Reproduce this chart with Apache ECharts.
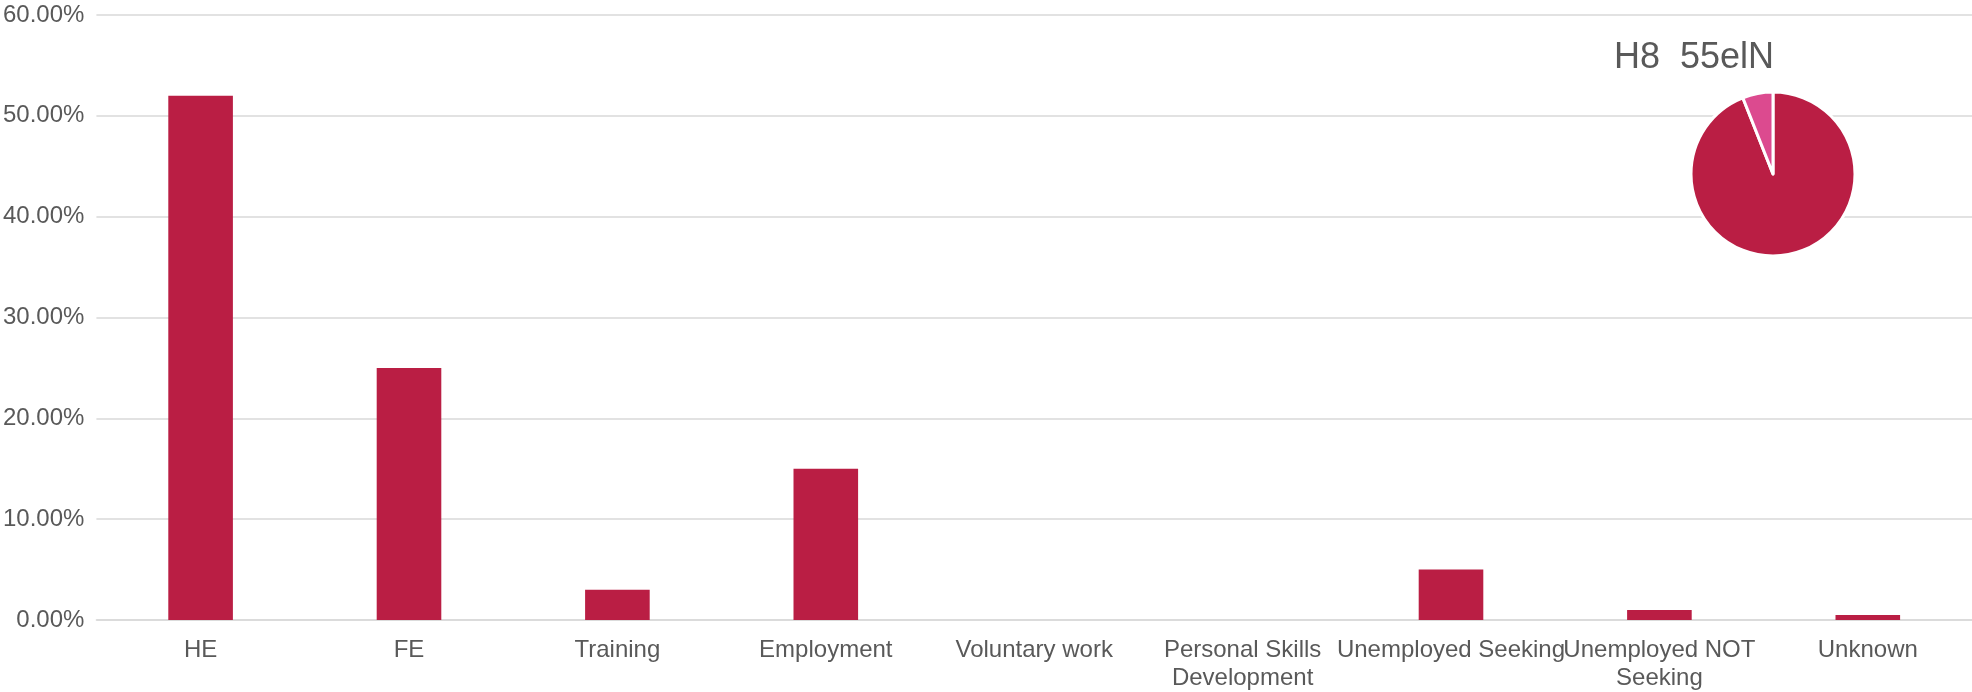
<!DOCTYPE html>
<html>
<head>
<meta charset="utf-8">
<script src="https://cdn.jsdelivr.net/npm/echarts@6/dist/echarts.min.js"></script>
<style>
html,body{margin:0;padding:0;background:#fff;}
#chart{width:1972px;height:692px;}
</style>
</head>
<body>
<div id="chart"></div>
<script>
const categories = ['HE', 'FE', 'Training', 'Employment', 'Voluntary work', 'Personal Skills\nDevelopment', 'Unemployed Seeking', 'Unemployed NOT\nSeeking', 'Unknown'];
const barValues = [52, 25, 3, 15, 0, 0, 5, 1, 0.5];
const yTicks = { min: 0, max: 60, interval: 10 };
const pieTitle = 'H8  55elN';
const pieNames = ['A', 'B'];
const pieValues = [94, 6];

const chart = echarts.init(document.getElementById('chart'));
const font = '"Liberation Sans", Arial, sans-serif';
chart.setOption({
  animation: false,
  backgroundColor: '#ffffff',
  textStyle: { fontFamily: font },
  grid: { left: 94, right: 0, top: 15, bottom: 70, containLabel: false },
  xAxis: {
    type: 'category',
    data: categories,
    axisTick: { show: false },
    axisLine: { lineStyle: { color: '#D9D9D9', width: 1.5 } },
    axisLabel: { color: '#595959', fontSize: 24, fontFamily: font, margin: 16, lineHeight: 28, interval: 0 }
  },
  yAxis: {
    type: 'value',
    min: yTicks.min, max: yTicks.max, interval: yTicks.interval,
    axisLine: { show: false },
    axisTick: { show: false },
    splitLine: { lineStyle: { color: '#D9D9D9', width: 1.5 } },
    axisLabel: { color: '#595959', fontSize: 24, fontFamily: font, margin: 12, formatter: v => v.toFixed(2) + '%' }
  },
  graphic: [{
    type: 'text',
    left: 1614, top: 40,
    style: { text: pieTitle, fill: '#595959', font: '36px ' + font }
  }],
  series: [
    {
      type: 'bar',
      data: barValues,
      barWidth: '31%',
      itemStyle: { color: '#BA1E44' }
    },
    {
      type: 'pie',
      center: [1773, 174],
      radius: 82,
      startAngle: 90,
      clockwise: true,
      label: { show: false },
      labelLine: { show: false },
      itemStyle: { borderColor: '#ffffff', borderWidth: 3 },
      data: pieValues.map((v, i) => ({ name: pieNames[i], value: v, itemStyle: { color: i === 0 ? '#BA1E44' : '#DC4A8F' } }))
    }
  ]
});
</script>
</body>
</html>
